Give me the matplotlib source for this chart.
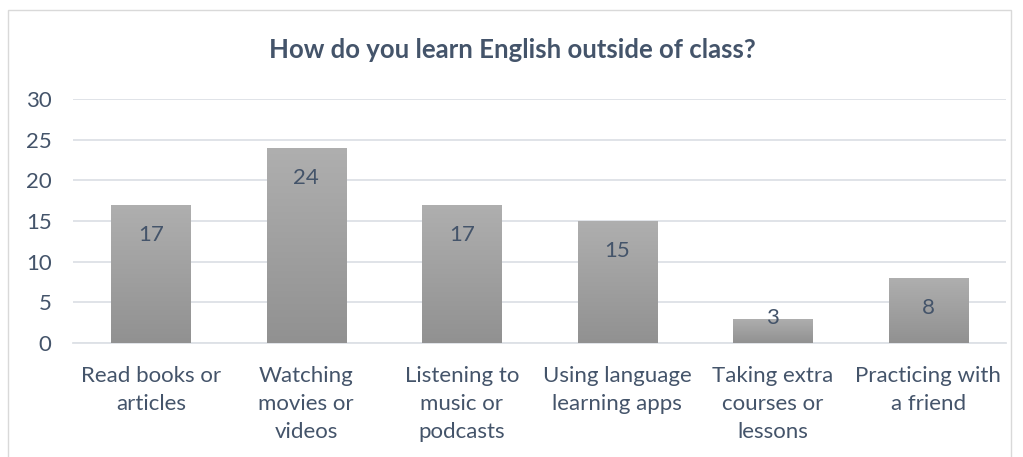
import matplotlib

matplotlib.use("Agg")
import matplotlib.pyplot as plt
import numpy as np
from matplotlib.colors import LinearSegmentedColormap
from matplotlib.patches import Rectangle

categories = [
    "Read books or\narticles",
    "Watching\nmovies or\nvideos",
    "Listening to\nmusic or\npodcasts",
    "Using language\nlearning apps",
    "Taking extra\ncourses or\nlessons",
    "Practicing with\na friend",
]
counts = [17, 24, 17, 15, 3, 8]
yticks = [0, 5, 10, 15, 20, 25, 30]

TEXT = "#44546A"
GRID = "#DDE1E6"

plt.rcParams["font.family"] = ["Lato", "DejaVu Sans"]

fig = plt.figure(figsize=(10.23, 4.57), dpi=100)
ax = fig.add_axes([0.0714, 0.2495, 0.912, 0.534])

# outer chart border
fig.patches.append(Rectangle((8 / 1023, -0.01), 1003 / 1023, 1 - 9.5 / 457 + 0.01,
                             transform=fig.transFigure, fill=False,
                             edgecolor="#D9D9D9", linewidth=1.0))

x = np.arange(len(categories))
bars = ax.bar(x, counts, width=0.51, color="#A0A0A0", zorder=2)

# vertical grey gradient on each bar
cmap = LinearSegmentedColormap.from_list("g", ["#919191", "#AFAFAF"])
grad = np.linspace(0, 1, 256).reshape(-1, 1)
for bar in bars:
    x0, y0 = bar.get_x(), bar.get_y()
    w, h = bar.get_width(), bar.get_height()
    im = ax.imshow(grad, extent=[x0, x0 + w, y0, y0 + h], origin="lower",
                   cmap=cmap, aspect="auto", zorder=3)
    im.set_clip_path(bar)

for xi, v in zip(x, counts):
    dy = -30 if v > 6 else 1
    ax.annotate(str(v), (xi, v), xytext=(0, dy), textcoords="offset pixels",
                ha="center", va="center", fontsize=16, color=TEXT, zorder=4)

ax.set_xlim(-0.5, len(categories) - 0.5)
ax.set_ylim(0, 30)
ax.set_yticks(yticks)
ax.set_xticks(x)
ax.set_xticklabels(categories, fontsize=16, color=TEXT, linespacing=1.5)
ax.tick_params(axis="y", labelsize=16, labelcolor=TEXT, length=0, pad=15.5)
ax.tick_params(axis="x", length=0, pad=16.5)
ax.grid(axis="y", color=GRID, linewidth=1.3, zorder=0)
ax.set_axisbelow(True)
for side in ["top", "right", "left"]:
    ax.spines[side].set_visible(False)
ax.spines["bottom"].set_color(GRID)
ax.spines["bottom"].set_linewidth(1.3)

fig.text(512.5 / 1023, 1 - 50 / 457, "How do you learn English outside of class?",
         ha="center", va="center", fontsize=18.5, fontweight="bold", color=TEXT)

fig.savefig("out.png", dpi=100, facecolor="white")
